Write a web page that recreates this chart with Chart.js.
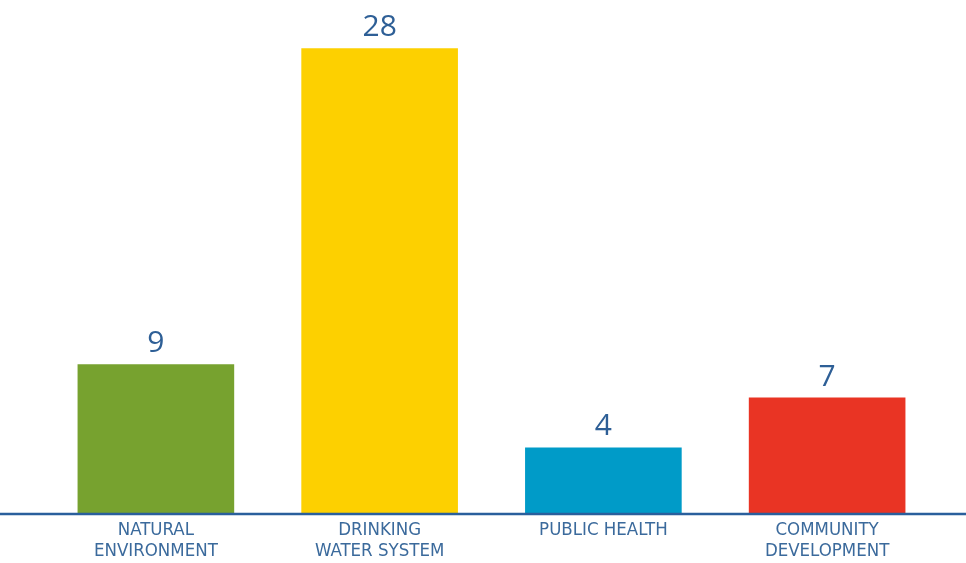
<!DOCTYPE html>
<html>
<head>
<meta charset="utf-8">
<script src="https://cdn.jsdelivr.net/npm/chart.js@4"></script>
<style>
  html, body { margin: 0; padding: 0; background: #fff; }
  #wrap { width: 966px; height: 563px; }
</style>
</head>
<body>
<div id="wrap"><canvas id="chart"></canvas></div>
<script>
const categories = [
  ["NATURAL", "ENVIRONMENT"],
  ["DRINKING", "WATER SYSTEM"],
  ["PUBLIC HEALTH"],
  ["COMMUNITY", "DEVELOPMENT"],
];
const counts = [9, 28, 4, 7];
const barColors = ["#77a22f", "#fdd000", "#009bc8", "#e93424"];

const textBlue = "#2e5f96";
const labelBlue = "#3b6a9c";

// value above each bar
const valueLabels = {
  id: "valueLabels",
  afterDatasetsDraw(chart) {
    const ctx = chart.ctx;
    const meta = chart.getDatasetMeta(0);
    ctx.save();
    ctx.fillStyle = textBlue;
    ctx.font = "30px 'Open Sans'";
    ctx.textAlign = "center";
    ctx.textBaseline = "alphabetic";
    meta.data.forEach((bar, i) => {
      ctx.fillText(counts[i], bar.x, bar.y - 12);
    });
    ctx.restore();
  },
};

// baseline runs across the whole page
const baseline = {
  id: "baseline",
  afterDatasetsDraw(chart) {
    const ctx = chart.ctx;
    const y = chart.chartArea.bottom;
    ctx.save();
    ctx.strokeStyle = "#2a5f9c";
    ctx.lineWidth = 2.5;
    ctx.beginPath();
    ctx.moveTo(0, y);
    ctx.lineTo(chart.width, y);
    ctx.stroke();
    ctx.restore();
  },
};

new Chart(document.getElementById("chart"), {
  type: "bar",
  data: {
    labels: categories,
    datasets: [
      {
        data: counts,
        backgroundColor: barColors,
        barPercentage: 0.7,
        categoryPercentage: 1,
      },
    ],
  },
  options: {
    responsive: true,
    maintainAspectRatio: false,
    animation: false,
    layout: { padding: { left: 44, right: 27, top: 15, bottom: 0 } },
    plugins: {
      legend: { display: false },
      tooltip: { enabled: false },
    },
    scales: {
      x: {
        grid: { display: false, drawTicks: false },
        border: { display: false },
        ticks: {
          color: labelBlue,
          font: { family: "'DejaVu Sans Condensed', 'Open Sans'", size: 18.5, lineHeight: 1.17 },
          padding: 5,
          maxRotation: 0,
          autoSkip: false,
        },
        afterFit(scale) {
          scale.height = 49;
        },
      },
      y: {
        display: false,
        min: 0,
        max: 30,
      },
    },
  },
  plugins: [valueLabels, baseline],
});
</script>
</body>
</html>
